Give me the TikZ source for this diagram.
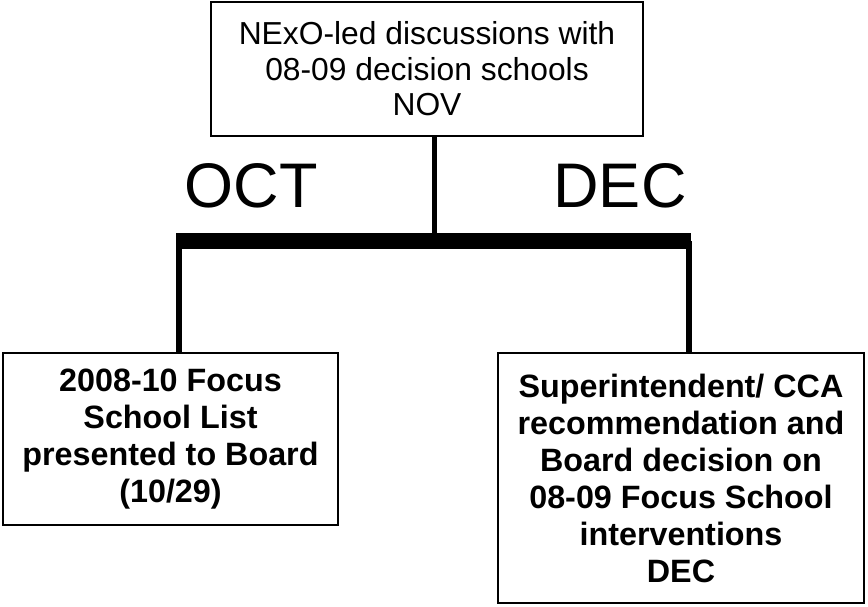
\documentclass[tikz,border=0pt]{standalone}
\usepackage{fontspec}
\setmainfont{Liberation Sans}
\usepackage{xcolor}
\definecolor{Black}{RGB}{0,0,0}
\definecolor{White}{RGB}{255,255,255}
\usetikzlibrary{positioning}
\tikzset{
	phasebox/.style={draw=Black, fill=White, line width=2.5pt, align=center, inner sep=0pt,
		font=\fontsize{32.3}{37}\selectfont\bfseries},
	monthlabel/.style={align=center, color=Black, font=\fontsize{63}{70}\selectfont},
	branch/.style={-, draw=Black, line width=5.5pt}
}

\begin{document}
\begin{tikzpicture}[x=1pt, y=-1pt]
		
		\useasboundingbox (0,0) rectangle (868,606);
		
		% Boxes
		\node[phasebox, minimum width=432pt, minimum height=134pt, line width=2pt,
			font=\fontsize{31.8}{35.5}\selectfont] (nov) at (427,69)
			{NExO-led discussions with\\08-09 decision schools\\NOV};
		\node[phasebox, minimum width=335pt, minimum height=172pt] (oct) at (170.5,439)
			{2008-10 Focus\\School List\\presented to Board\\(10/29)};
		\node[phasebox, minimum width=366pt, minimum height=250pt] (dec) at (681,478)
			{Superintendent/ CCA\\recommendation and\\Board decision on\\08-09 Focus School\\interventions\\DEC};
		
		% Text
		\node[monthlabel] (octlabel) at (251,186) {OCT};
		\node[monthlabel] (declabel) at (620,186) {DEC};
		
		% Tree
		\coordinate (hub) at (434.5,241);
		\coordinate (barL) at (176,241);
		\coordinate (barR) at (691,241);
		\coordinate (legL) at (179,241);
		\coordinate (legR) at (689,241);
		
		\draw[branch, line width=5pt] (nov.south -| hub) -- (hub);
		\draw[branch, line width=16pt] (barL) -- (barR);
		\draw[branch] (legL) -- (legL |- oct.north);
		\draw[branch] (legR) -- (legR |- dec.north);
		
	\end{tikzpicture}
\end{document}
